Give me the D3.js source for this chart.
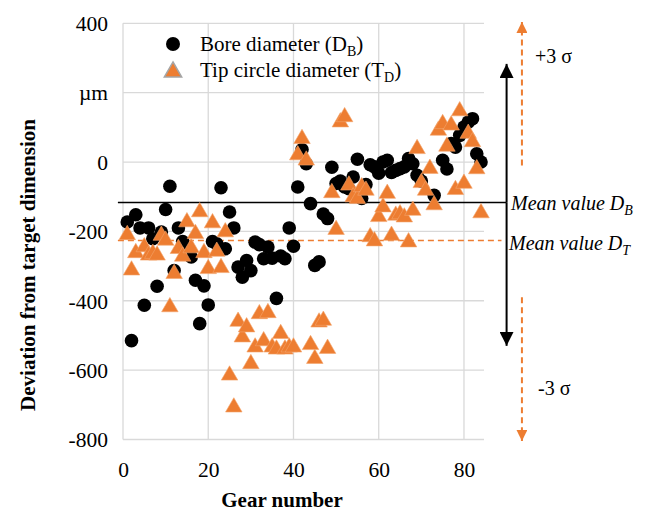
<!DOCTYPE html>
<html>
<head>
<meta charset="utf-8">
<script src="https://cdn.jsdelivr.net/npm/d3@7"></script>
<style>
  body { margin: 0; background: #fff; }
  text { font-family: "Liberation Serif", "Times New Roman", serif; fill: #000; }
</style>
</head>
<body>
<div id="container"></div>
<script>
let w = 667;
let h = 511;

// gear numbers and deviations (µm)
let boreGear = [1,2,3,4,5,6,7,8,9,10,11,12,13,14,15,16,17,18,19,20,
  21,22,23,24,25,26,27,28,29,30,31,32,33,34,35,36,37,38,39,40,
  41,42,43,44,45,46,47,48,49,50,51,52,53,54,55,56,57,58,59,60,
  61,62,63,64,65,66,67,68,69,70,73,75,76,77,78,79,80,81,82,83,84];
let boreDev = [-173,-515,-152,-190,-413,-190,-221,-358,-202,-137,-70,-313,-190,-229,-260,-274,-341,-466,-357,-412,
  -229,-236,-74,-250,-144,-190,-303,-332,-284,-313,-231,-238,-279,-245,-277,-393,-271,-279,-190,-243,
  -72,36,-5,-120,-298,-288,-150,-163,-15,-62,-55,-72,-77,-43,8,-105,-65,-8,-14,-32,
  0,5,-30,-24,-19,-14,10,-5,-38,-55,-96,5,-20,53,43,77,101,115,125,24,0];

let tipGear = [1,2,3,5,6,7,8,9,10,11,12,13,14,15,16,17,18,19,20,
  21,22,23,24,25,26,27,28,29,30,31,32,33,34,35,36,37,38,39,40,
  41,42,43,44,45,46,47,48,49,50,51,52,53,54,55,56,57,58,59,60,
  61,62,63,64,65,66,67,68,69,70,71,72,73,74,75,76,77,78,79,80,81,82,83,84];
let tipDev = [-210,-312,-262,-245,-269,-264,-269,-212,-226,-418,-322,-250,-272,-173,-248,-207,-144,-262,-308,
  -176,-258,-305,-202,-615,-707,-460,-505,-476,-582,-534,-438,-516,-435,-534,-540,-495,-540,-534,-534,
  20,67,5,-527,-567,-462,-457,-538,-89,-195,115,130,-67,-101,-106,-72,-82,-216,-228,-158,
  -130,-91,-212,-154,-150,-159,-231,-140,38,-60,-82,-19,-124,91,110,45,106,-80,147,-62,82,58,-20,-147];

let xTicks = [0, 20, 40, 60, 80];
let yTicks = [400, 200, 0, -200, -400, -600, -800];
let yTickLabels = ["400", "µm", "0", "-200", "-400", "-600", "-800"];

// mean values and ±3 sigma ranges (µm)
let meanBore = -117;
let meanTip = -226;
let boreSigma = [283, -530];
let tipSigmaUp = [404, -10];
let tipSigmaDown = [-390, -804];

let orange = "#ED7D31";
let gridColor = "#d9d9d9";

let viz = d3.select("#container")
  .append("svg")
    .attr("width", w)
    .attr("height", h)
;

let xScale = d3.scaleLinear().domain([0, 84.7]).range([123, 484]);
let yScale = d3.scaleLinear().domain([400, -800]).range([23.3, 439.5]);

// grid lines
viz.append("g").selectAll("line").data(yTicks).enter().append("line")
  .attr("x1", xScale(0)).attr("x2", xScale(84.7))
  .attr("y1", d => yScale(d)).attr("y2", d => yScale(d))
  .attr("stroke", gridColor).attr("stroke-width", 1.3);
viz.append("g").selectAll("line").data(xTicks).enter().append("line")
  .attr("x1", d => xScale(d)).attr("x2", d => xScale(d))
  .attr("y1", yScale(400)).attr("y2", yScale(-800))
  .attr("stroke", gridColor).attr("stroke-width", 1.3);

// axes (labels only)
let yAxis = d3.axisLeft(yScale).tickValues(yTicks).tickSize(0).tickPadding(0)
  .tickFormat((d, i) => yTickLabels[i]);
let yAxisGroup = viz.append("g").attr("transform", "translate(108,0)").call(yAxis);
yAxisGroup.select(".domain").remove();
yAxisGroup.selectAll("text").attr("font-size", 21.5).attr("font-family", "Liberation Serif").attr("fill", "#000").attr("dy", "0.34em");

let xAxis = d3.axisBottom(xScale).tickValues(xTicks).tickSize(0).tickPadding(0);
let xAxisGroup = viz.append("g").attr("transform", "translate(0,462)").call(xAxis);
xAxisGroup.select(".domain").remove();
xAxisGroup.selectAll("text").attr("font-size", 21.5).attr("font-family", "Liberation Serif").attr("fill", "#000");

// axis titles
viz.append("text")
  .attr("x", 282).attr("y", 507)
  .attr("text-anchor", "middle")
  .attr("font-size", 21).attr("font-weight", "bold")
  .text("Gear number");
viz.append("text")
  .attr("transform", "translate(35,265) rotate(-90)")
  .attr("text-anchor", "middle")
  .attr("font-size", 21).attr("font-weight", "bold")
  .text("Deviation from target dimension");

// mean lines
viz.append("line")
  .attr("x1", xScale(-1.2)).attr("x2", xScale(90))
  .attr("y1", yScale(meanBore)).attr("y2", yScale(meanBore))
  .attr("stroke", "#000").attr("stroke-width", 1.5);
viz.append("line")
  .attr("x1", xScale(-1.2)).attr("x2", xScale(88.8))
  .attr("y1", yScale(meanTip)).attr("y2", yScale(meanTip))
  .attr("stroke", orange).attr("stroke-width", 1.5).attr("stroke-dasharray", "6,4");

// data points
let triangle = d3.symbol().type(d3.symbolTriangle).size(118);

viz.append("g").selectAll("circle").data(boreGear).enter().append("circle")
  .attr("cx", d => xScale(d))
  .attr("cy", (d, i) => yScale(boreDev[i]))
  .attr("r", 6.8)
  .attr("fill", "#000");

viz.append("g").selectAll("path").data(tipGear).enter().append("path")
  .attr("d", triangle)
  .attr("transform", (d, i) => "translate(" + xScale(d) + "," + yScale(tipDev[i]) + ")")
  .attr("fill", orange)
  .attr("stroke", "#f3a46c")
  .attr("stroke-width", 0.6);

// sigma arrows
let defs = viz.append("defs");
function arrowHead(id, color, size){
  defs.append("marker")
    .attr("id", id)
    .attr("viewBox", "0 0 10 10")
    .attr("refX", 10).attr("refY", 5)
    .attr("markerUnits", "userSpaceOnUse")
    .attr("markerWidth", size).attr("markerHeight", size)
    .attr("orient", "auto")
    .append("path").attr("d", "M0,0 L10,5 L0,10 Z").attr("fill", color);
}
arrowHead("blackHead", "#000", 14);
arrowHead("orangeHead", orange, 11);

let xBoreArrow = xScale(90);
let xTipArrow = xScale(93.6);

viz.append("line")
  .attr("x1", xBoreArrow).attr("x2", xBoreArrow)
  .attr("y1", yScale(meanBore)).attr("y2", yScale(boreSigma[0]))
  .attr("stroke", "#000").attr("stroke-width", 2)
  .attr("marker-end", "url(#blackHead)");
viz.append("line")
  .attr("x1", xBoreArrow).attr("x2", xBoreArrow)
  .attr("y1", yScale(meanBore)).attr("y2", yScale(boreSigma[1]))
  .attr("stroke", "#000").attr("stroke-width", 2)
  .attr("marker-end", "url(#blackHead)");

viz.append("line")
  .attr("x1", xTipArrow).attr("x2", xTipArrow)
  .attr("y1", yScale(tipSigmaUp[1])).attr("y2", yScale(tipSigmaUp[0]))
  .attr("stroke", orange).attr("stroke-width", 2).attr("stroke-dasharray", "6,4")
  .attr("marker-end", "url(#orangeHead)");
viz.append("line")
  .attr("x1", xTipArrow).attr("x2", xTipArrow)
  .attr("y1", yScale(tipSigmaDown[0])).attr("y2", yScale(tipSigmaDown[1]))
  .attr("stroke", orange).attr("stroke-width", 2).attr("stroke-dasharray", "6,4")
  .attr("marker-end", "url(#orangeHead)");

viz.append("text").attr("x", 535).attr("y", 63).attr("font-size", 20).text("+3 σ");
viz.append("text").attr("x", 538).attr("y", 395).attr("font-size", 20).text("-3 σ");

// mean labels
function meanLabel(x, y, sub){
  let t = viz.append("text").attr("x", x).attr("y", y)
    .attr("font-size", 20).attr("font-style", "italic");
  t.append("tspan").text("Mean value D");
  t.append("tspan").attr("font-size", 14).attr("dy", 5).text(sub);
}
meanLabel(511, 210, "B");
meanLabel(509, 250, "T");

// legend
viz.append("circle").attr("cx", 173).attr("cy", 44).attr("r", 7).attr("fill", "#000");
viz.append("path").attr("d", d3.symbol().type(d3.symbolTriangle).size(130)())
  .attr("transform", "translate(173,72)")
  .attr("fill", orange).attr("stroke", "#a5a5a5").attr("stroke-width", 1.5);

let l1 = viz.append("text").attr("x", 200).attr("y", 51).attr("font-size", 21);
l1.append("tspan").text("Bore diameter (D");
l1.append("tspan").attr("font-size", 14).attr("dy", 5).text("B");
l1.append("tspan").attr("dy", -5).text(")");

let l2 = viz.append("text").attr("x", 200).attr("y", 77).attr("font-size", 21);
l2.append("tspan").text("Tip circle diameter (T");
l2.append("tspan").attr("font-size", 14).attr("dy", 5).text("D");
l2.append("tspan").attr("dy", -5).text(")");
</script>
</body>
</html>
